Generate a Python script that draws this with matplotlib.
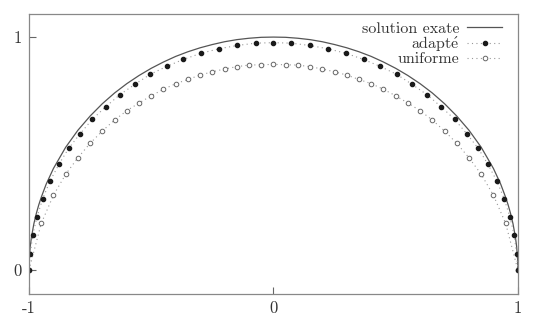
import matplotlib
matplotlib.use('Agg')
import matplotlib.pyplot as plt

plt.rcParams['font.family'] = ['cmr10', 'DejaVu Serif']
plt.rcParams['mathtext.fontset'] = 'cm'
plt.rcParams['axes.unicode_minus'] = False

# solution exate
exact_x = [-1.0, -0.999, -0.995, -0.99, -0.98, -0.97, -0.96, -0.95, -0.93, -0.90,
           -0.85, -0.80, -0.75, -0.70, -0.65, -0.60, -0.55, -0.50, -0.45, -0.40,
           -0.35, -0.30, -0.25, -0.20, -0.15, -0.10, -0.05, 0.0,
           0.05, 0.10, 0.15, 0.20, 0.25, 0.30, 0.35, 0.40, 0.45, 0.50,
           0.55, 0.60, 0.65, 0.70, 0.75, 0.80, 0.85, 0.90, 0.93, 0.95,
           0.96, 0.97, 0.98, 0.99, 0.995, 0.999, 1.0]
exact_y = [0.0, 0.045, 0.100, 0.141, 0.199, 0.243, 0.280, 0.312, 0.368, 0.436,
           0.527, 0.600, 0.661, 0.714, 0.760, 0.800, 0.835, 0.866, 0.893, 0.917,
           0.937, 0.954, 0.968, 0.980, 0.989, 0.995, 0.999, 1.0,
           0.999, 0.995, 0.989, 0.980, 0.968, 0.954, 0.937, 0.917, 0.893, 0.866,
           0.835, 0.800, 0.760, 0.714, 0.661, 0.600, 0.527, 0.436, 0.368, 0.312,
           0.280, 0.243, 0.199, 0.141, 0.100, 0.045, 0.0]

# maillage adapte
adapt_x = [-1.0, -0.995, -0.985, -0.967, -0.944, -0.914, -0.877, -0.838, -0.791, -0.741,
           -0.686, -0.629, -0.566, -0.504, -0.437, -0.369, -0.295, -0.222, -0.148, -0.073,
           0.0,
           0.073, 0.148, 0.222, 0.295, 0.369, 0.437, 0.504, 0.566, 0.629, 0.686,
           0.741, 0.791, 0.838, 0.877, 0.914, 0.944, 0.967, 0.985, 0.995, 1.0]
adapt_y = [0.0, 0.067, 0.150, 0.229, 0.306, 0.382, 0.455, 0.522, 0.585, 0.647,
           0.701, 0.752, 0.798, 0.840, 0.874, 0.904, 0.931, 0.950, 0.964, 0.974,
           0.976,
           0.974, 0.964, 0.950, 0.931, 0.904, 0.874, 0.840, 0.798, 0.752, 0.701,
           0.647, 0.585, 0.522, 0.455, 0.382, 0.306, 0.229, 0.150, 0.067, 0.0]

# maillage uniforme
unif_x = [-1.0, -0.95, -0.90, -0.85, -0.80, -0.75, -0.70, -0.65, -0.60, -0.55, -0.50,
          -0.45, -0.40, -0.35, -0.30, -0.25, -0.20, -0.15, -0.10, -0.05, 0.0,
          0.05, 0.10, 0.15, 0.20, 0.25, 0.30, 0.35, 0.40, 0.45, 0.50,
          0.55, 0.60, 0.65, 0.70, 0.75, 0.80, 0.85, 0.90, 0.95, 1.0]
unif_y = [0.0, 0.200, 0.321, 0.411, 0.482, 0.544, 0.597, 0.644, 0.684, 0.717, 0.748,
          0.776, 0.800, 0.818, 0.837, 0.851, 0.863, 0.873, 0.880, 0.881, 0.883,
          0.881, 0.880, 0.873, 0.863, 0.851, 0.837, 0.818, 0.800, 0.776, 0.748,
          0.717, 0.684, 0.644, 0.597, 0.544, 0.482, 0.411, 0.321, 0.200, 0.0]

x_ticks = [-1, 0, 1]
x_ticklabels = ['-1', '0', '1']
y_ticks = [0, 1]
y_ticklabels = ['0', '1']

fig = plt.figure(figsize=(5.35, 3.26), dpi=100)
ax = fig.add_axes([0.0542, 0.098, 0.9138, 0.859])

ax.plot(exact_x, exact_y, color='#555555', linewidth=0.9, label='solution exate')
ax.plot(adapt_x, adapt_y, color='#999999', linestyle=(0, (1, 3)), linewidth=0.8,
        marker='o', markersize=3.0, markerfacecolor='#1a1a1a', markeredgecolor='#1a1a1a',
        label=r'adapt$\acute{\mathrm{e}}$')
ax.plot(unif_x, unif_y, color='#999999', linestyle=(0, (1, 3)), linewidth=0.8,
        marker='o', markersize=3.3, markerfacecolor='white', markeredgecolor='#666666',
        markeredgewidth=0.7, label='uniforme', zorder=1.5)

ax.set_xlim(-1, 1)
ax.set_ylim(-0.103, 1.099)
ax.set_xticks(x_ticks)
ax.set_xticklabels(x_ticklabels)
ax.set_yticks(y_ticks)
ax.set_yticklabels(y_ticklabels)
ax.tick_params(direction='in', length=5, width=0.8, colors='#666666',
               labelcolor='#333333', labelsize=12, pad=5)
for s in ax.spines.values():
    s.set_color('#888888')
    s.set_linewidth(0.9)

ax.legend(loc='upper right', bbox_to_anchor=(0.975, 0.985), frameon=False,
          markerfirst=False, fontsize=11.5, numpoints=1, handlelength=2.2,
          handletextpad=0.5, labelspacing=-0.08, borderaxespad=0.0, borderpad=0.2,
          labelcolor='#333333')

fig.savefig('out.png', dpi=100)
